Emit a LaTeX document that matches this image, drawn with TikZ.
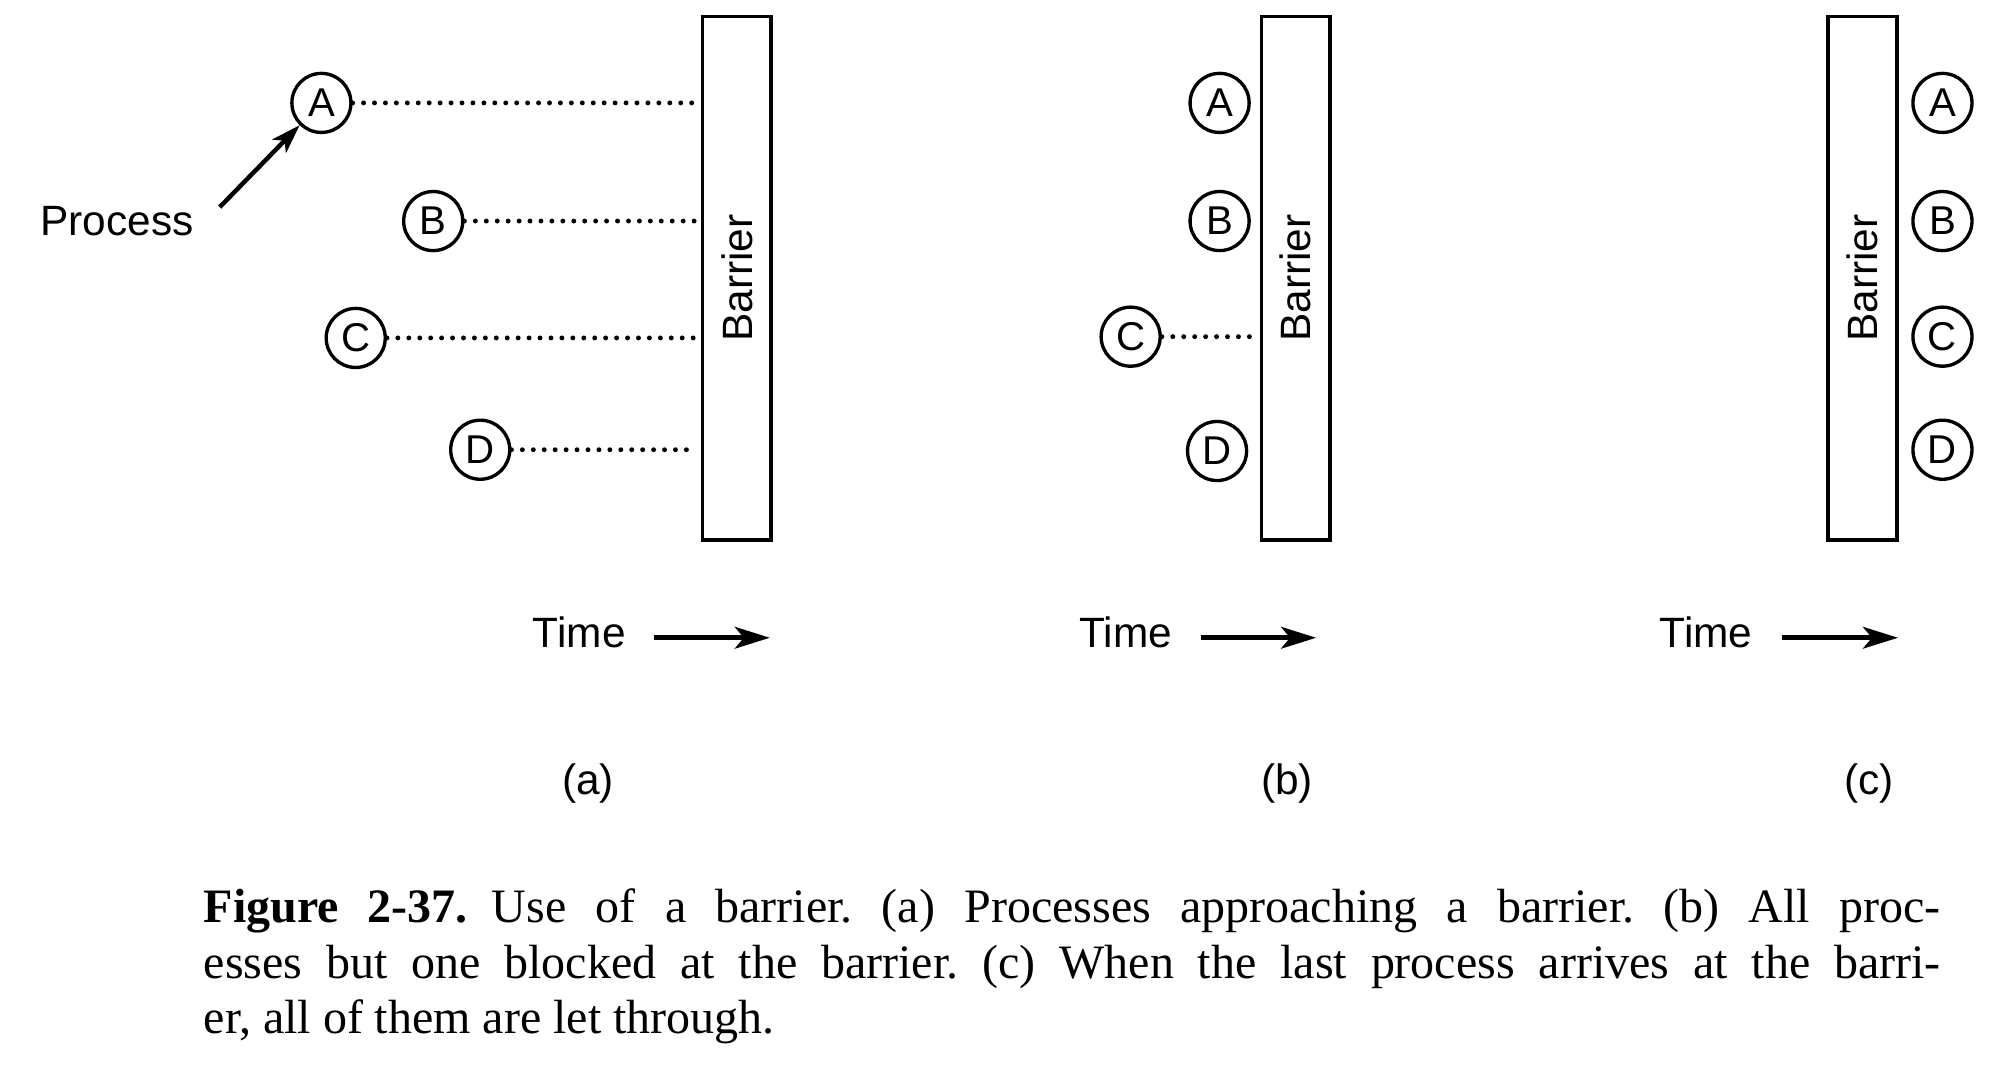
\documentclass[tikz,border=0pt]{standalone}
\usepackage{fontspec}
\setmainfont{Liberation Serif}
\setsansfont{Liberation Sans}
\usetikzlibrary{arrows.meta, positioning}

\tikzset{
  proc/.style={circle, draw, line width=1.5pt, minimum size=9.3mm, inner sep=0pt,
    font=\sffamily\fontsize{18}{18}\selectfont},
  barrier/.style={rectangle, draw, line width=1.6pt, minimum width=10.8mm,
    minimum height=82.4mm, inner sep=0pt},
  barlabel/.style={rotate=90, inner sep=0pt, font=\sffamily\fontsize{19}{19}\selectfont},
  txt/.style={inner sep=0pt, font=\sffamily\fontsize{19}{19}\selectfont},
  waitline/.style={line width=2.2pt, line cap=round, dash pattern=on 0pt off 4.9pt,
    shorten >=0.8mm},
  timearrow/.style={-{Stealth[length=5.5mm, width=3.4mm, inset=1.4mm]}, line width=2.3pt},
  procarrow/.style={-{Stealth[length=4.6mm, width=3mm, inset=1.2mm]}, line width=2pt},
}

\begin{document}
\begin{tikzpicture}[x=0.02cm, y=-0.02cm]
	\useasboundingbox (0,0) rectangle (1568,839);
	% (a) processes approaching
	\node[barrier] (barA) at (580,219) {};
	\node[barlabel] (barA-txt) at (barA.center) {Barrier};
	\node[proc] (aA) at (253,81) {A};
	\node[proc] (aB) at (341,174) {B};
	\node[proc] (aC) at (280,266) {C};
	\node[proc] (aD) at (378,354) {D};
	\draw[waitline] (aA) -- (aA -| barA.west);
	\draw[waitline] (aB) -- (aB -| barA.west);
	\draw[waitline] (aC) -- (aC -| barA.west);
	\draw[waitline] (aD) -- (aD -| barA.west);
	\node[txt, anchor=base] (procTxt) at (92,185) {Process};
	\coordinate (procTail) at (173,163);
	\draw[procarrow] (procTail) -- (aA);
	\node[txt, anchor=base] (timeA) at (456,510) {Time};
	\coordinate (tA-s) at (515,502);
	\coordinate (tA-e) at (606,502);
	\draw[timearrow] (tA-s) -- (tA-e);
	\node[txt, anchor=base] (capA) at (463,625) {(a)};

	% (b) all but one blocked
	\node[barrier] (barB) at (1020,219) {};
	\node[barlabel] (barB-txt) at (barB.center) {Barrier};
	\node[proc] (bA) at (960,81) {A};
	\node[proc] (bB) at (960,174) {B};
	\node[proc] (bC) at (890,265) {C};
	\node[proc] (bD) at (958,355) {D};
	\draw[waitline] (bC) -- (bC -| barB.west);
	\node[txt, anchor=base] (timeB) at (886,510) {Time};
	\coordinate (tB-s) at (945,502);
	\coordinate (tB-e) at (1036,502);
	\draw[timearrow] (tB-s) -- (tB-e);
	\node[txt, anchor=base] (capB) at (1013,625) {(b)};

	% (c) let through
	\node[barrier] (barC) at (1466,219) {};
	\node[barlabel] (barC-txt) at (barC.center) {Barrier};
	\node[proc] (cA) at (1529,81) {A};
	\node[proc] (cB) at (1529,174) {B};
	\node[proc] (cC) at (1529,265) {C};
	\node[proc] (cD) at (1529,354) {D};
	\node[txt, anchor=base] (timeC) at (1343,510) {Time};
	\coordinate (tC-s) at (1403,502);
	\coordinate (tC-e) at (1494,502);
	\draw[timearrow] (tC-s) -- (tC-e);
	\node[txt, anchor=base] (capC) at (1471,625) {(c)};

	% figure caption
	\node[anchor=north west, inner sep=0pt, text width=27.35cm, align=justify,
	  font=\fontsize{21.5}{25}\selectfont\frenchspacing] (figCap) at (160,699)
	  {\textbf{Figure 2-37.}\enspace Use of a barrier. (a) Processes approaching a barrier. (b) All proc-\linebreak
	  esses but one blocked at the barrier. (c) When the last process arrives at the barri-\linebreak
	  er, all of them are let through.};
\end{tikzpicture}
\end{document}
